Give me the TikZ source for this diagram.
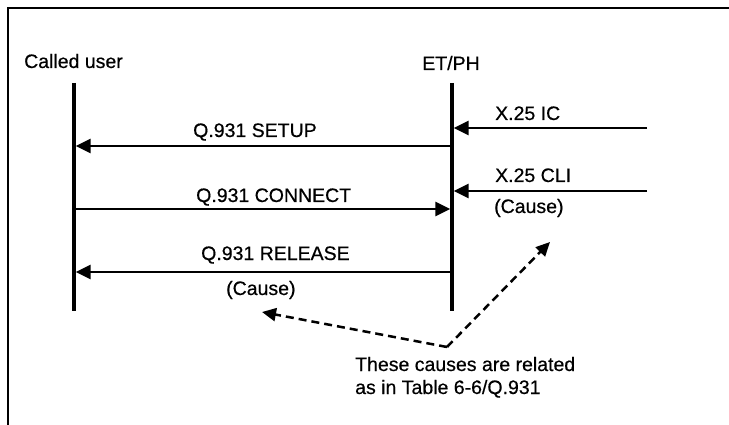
\documentclass[tikz,border=0pt]{standalone}
\usepackage{fontspec}
\setmainfont{Liberation Sans}
\newfontfamily\lblfont{Liberation Sans}[FakeBold=0.5]
\usetikzlibrary{arrows.meta}
\begin{document}
\begin{tikzpicture}[x=1pt,y=-1pt,
  lbl/.style={inner sep=0pt, anchor=base west, font=\lblfont\fontsize{19.5}{23}\selectfont},
  life/.style={line width=3.4pt},
  msg/.style={line width=2.5pt, -{Triangle[length=15pt,width=14pt]}},
  rel/.style={line width=2.5pt, dash pattern=on 8pt off 5pt, -{Triangle[length=14pt,width=13pt]}},
  frame/.style={line width=2pt}]
\useasboundingbox (0,0) rectangle (729,425);
% frame
\coordinate (fBL) at (8,425);
\coordinate (fTL) at (8,8);
\coordinate (fTR) at (729,8);
\draw[frame] (fBL) -- (fTL) -- (fTR);
% headers
\node[lbl] (called) at (24,68) {Called user};
\node[lbl, anchor=base] (etph) at (451,70) {ET/PH};
% lifelines
\coordinate (uTop) at (74,83);
\coordinate (uBot) at (74,311);
\coordinate (eTop) at (452,83);
\coordinate (eBot) at (452,311);
\draw[life] (uTop) -- (uBot);
\draw[life] (eTop) -- (eBot);
% X.25 IC
\coordinate (icS) at (647,128);
\coordinate (icE) at (453.7,128);
\draw[msg] (icS) -- (icE);
\node[lbl] (iclbl) at (495,120) {X.25 IC};
% SETUP
\coordinate (suS) at (452,146);
\coordinate (suE) at (75.7,146);
\draw[msg] (suS) -- (suE);
\node[lbl] (sulbl) at (193,137) {Q.931 SETUP};
% X.25 CLI
\coordinate (clS) at (647,191);
\coordinate (clE) at (453.7,191);
\draw[msg] (clS) -- (clE);
\node[lbl] (cllbl) at (495,182) {X.25 CLI};
\node[lbl] (cause1) at (494,213) {(Cause)};
% CONNECT
\coordinate (coS) at (74,209);
\coordinate (coE) at (450.3,209);
\draw[msg] (coS) -- (coE);
\node[lbl] (colbl) at (196,202) {Q.931 CONNECT};
% RELEASE
\coordinate (reS) at (452,272);
\coordinate (reE) at (75.7,272);
\draw[msg] (reS) -- (reE);
\node[lbl] (relbl) at (201,260) {Q.931 RELEASE};
\node[lbl] (cause2) at (226,295) {(Cause)};
% relation note
\coordinate (vx) at (447,347);
\coordinate (tipL) at (262,312);
\coordinate (tipR) at (550,242);
\draw[rel] (vx) -- (tipL);
\draw[rel] (vx) -- (tipR);
\node[lbl] (note1) at (355,371) {These causes are related};
\node[lbl] (note2) at (355,394) {as in Table 6-6/Q.931};
\end{tikzpicture}
\end{document}
